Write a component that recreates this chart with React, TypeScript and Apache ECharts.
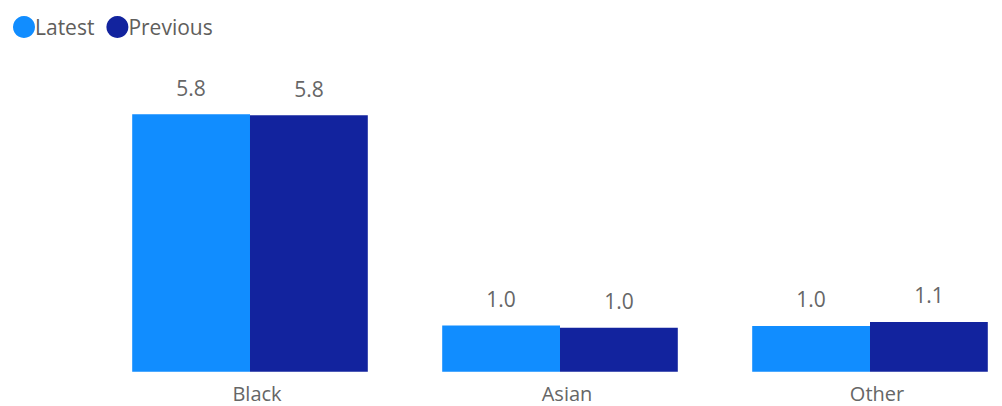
import React, { useEffect, useRef } from "react";
import * as echarts from "echarts";

const categories = ["Black", "Asian", "Other"];
const latest = [5.8, 1.04, 1.03];
const previous = [5.78, 0.99, 1.12];

export default function App() {
  const ref = useRef<HTMLDivElement>(null);
  useEffect(() => {
    const chart = echarts.init(ref.current!, undefined, { renderer: "svg" });
    const font = "'Open Sans', 'Noto Sans', sans-serif";
    const label = {
      show: true,
      position: "top" as const,
      distance: 16,
      fontSize: 21,
      fontFamily: font,
      color: "#666666",
      formatter: (p: any) => Number(p.value).toFixed(1),
    };
    chart.setOption({
      animation: false,
      legend: {
        left: 8,
        top: 11,
        icon: "circle",
        itemWidth: 22,
        itemHeight: 22,
        itemGap: 12,
        textStyle: { fontSize: 21, fontFamily: font, color: "#605E5C", padding: [0, 0, 0, -5] },
        data: ["Latest", "Previous"],
      },
      grid: { left: 95, right: 15, top: 61, bottom: 406 - 371.7, outerBoundsMode: "none" },
      xAxis: {
        type: "category",
        data: categories,
        axisLine: { show: false },
        axisTick: { show: false },
        axisLabel: {
          fontSize: 20,
          lineHeight: 19,
          fontFamily: font,
          color: "#666666",
          margin: 12,
          padding: [0, 0, 0, 14],
        },
      },
      yAxis: {
        type: "value",
        min: 0,
        max: 7,
        show: false,
        splitLine: { show: false },
      },
      series: [
        {
          name: "Latest",
          type: "bar",
          data: latest,
          itemStyle: { color: "#118DFF" },
          barGap: "0%",
          barCategoryGap: "24%",
          label,
        },
        {
          name: "Previous",
          type: "bar",
          data: previous,
          itemStyle: { color: "#12239E" },
          barGap: "0%",
          barCategoryGap: "24%",
          label,
        },
      ],
    });
    return () => chart.dispose();
  }, []);
  return (
    <div style={{ position: "absolute", left: 0, top: 0, width: 1002, height: 406, overflow: "hidden" }}>
      <div ref={ref} style={{ width: 1040, height: 406 }} />
    </div>
  );
}
